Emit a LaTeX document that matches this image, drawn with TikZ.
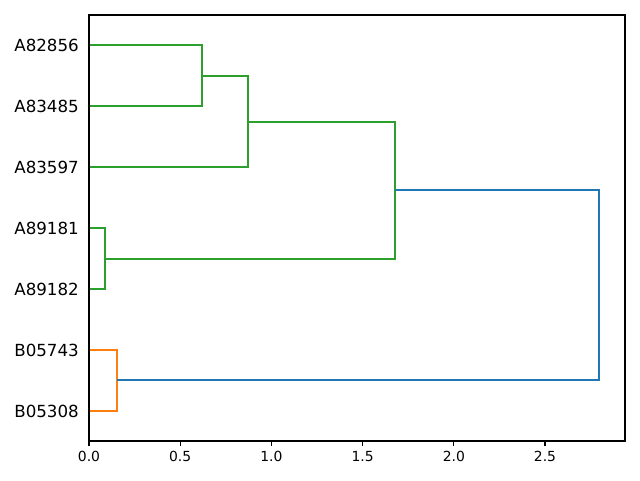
\documentclass[tikz,border=0pt]{standalone}
\usepackage{fontspec}
\setmainfont{DejaVu Sans}
\definecolor{mplgreen}{HTML}{2CA02C}
\definecolor{mplorange}{HTML}{FF7F0E}
\definecolor{mplblue}{HTML}{1F77B4}
\begin{document}
\begin{tikzpicture}[x=1pt,y=-1pt,
  link/.style={line width=2pt},
  spine/.style={line width=1.1pt, black},
  leaflabel/.style={anchor=east, inner sep=0pt, font=\fontsize{16.67}{20}\selectfont},
  ticklabel/.style={anchor=north, inner sep=0pt, font=\fontsize{13.9}{16}\selectfont}]
\useasboundingbox (0,0) rectangle (640,480);
% leaves
\coordinate (l1) at (89,45);
\coordinate (l2) at (89,106);
\coordinate (l3) at (89,167);
\coordinate (l4) at (89,228);
\coordinate (l5) at (89,289);
\coordinate (l6) at (89,350);
\coordinate (l7) at (89,411);
\node[leaflabel] (t1) at (79,45) {A82856};
\node[leaflabel] (t2) at (79,106) {A83485};
\node[leaflabel] (t3) at (79,167) {A83597};
\node[leaflabel] (t4) at (79,228) {A89181};
\node[leaflabel] (t5) at (79,289) {A89182};
\node[leaflabel] (t6) at (79,350) {B05743};
\node[leaflabel] (t7) at (79,411) {B05308};
% joins
\coordinate (j1) at (202,76);
\coordinate (j2) at (248,122);
\coordinate (j3) at (105,259);
\coordinate (j4) at (395,190);
\coordinate (j5) at (117,380);
\coordinate (root) at (599,285);
\draw[link, mplgreen] (l1) -| (j1) |- (l2);
\draw[link, mplgreen] (j1) -| (j2) |- (l3);
\draw[link, mplgreen] (l4) -| (j3) |- (l5);
\draw[link, mplgreen] (j2) -| (j4) |- (j3);
\draw[link, mplorange] (l6) -| (j5) |- (l7);
\draw[link, mplblue] (j4) -| (root) |- (j5);
% axes
\draw[spine] (89,15) rectangle (625,441);
\foreach \x/\lab in {89/0.0, 180.2/0.5, 271.4/1.0, 362.6/1.5, 453.8/2.0, 545/2.5} {
  \draw[spine] (\x,441) -- (\x,445.9);
  \node[ticklabel] at (\x,450.8) {\lab};
}
\end{tikzpicture}
\end{document}
